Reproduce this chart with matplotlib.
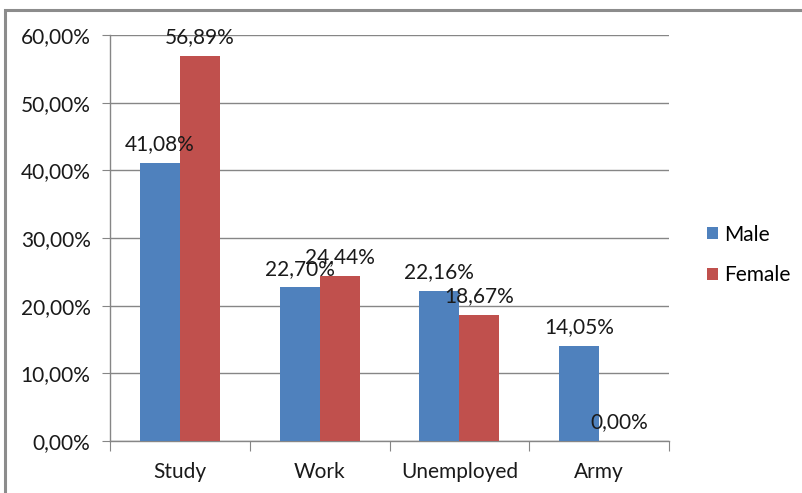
import matplotlib
matplotlib.use("Agg")
import matplotlib.pyplot as plt
from matplotlib.patches import Rectangle
import numpy as np

categories = ["Study", "Work", "Unemployed", "Army"]
male = [41.08, 22.70, 22.16, 14.05]
female = [56.89, 24.44, 18.67, 0.00]
series_names = ["Male", "Female"]
yticks = [0, 10, 20, 30, 40, 50, 60]

BLUE = "#4F81BD"
RED = "#C0504D"
GRID = "#868686"
FONT = ["Lato", "DejaVu Sans"]
plt.rcParams['font.family'] = FONT
FS = 15

def pct(v):
    return f"{v:.2f}".replace(".", ",") + "%"

fig = plt.figure(figsize=(8.02, 4.93), dpi=100)
W, H = 802, 493
# outer chart frame (cropped on right/bottom)
fig.patches.append(Rectangle((5 / W, -0.1), 1.2, 1 - 10 / H + 0.1, transform=fig.transFigure,
                             fill=False, edgecolor="#8c8c8c", linewidth=2.2))

ax = fig.add_axes([110 / W, 1 - 441 / H, (669 - 110) / W, (441 - 35) / H])
x = np.arange(len(categories)) + 0.5
w = 40 / 140
ax.bar(x - w / 2, male, width=w, color=BLUE, label=series_names[0], zorder=3)
ax.bar(x + w / 2, female, width=w, color=RED, label=series_names[1], zorder=3)

for xi, v in zip(x - w / 2, male):
    ax.text(xi, v + 1.3, pct(v), ha="center", va="bottom", fontsize=FS, color="#1a1a1a", zorder=4)
for xi, v in zip(x + w / 2, female):
    ax.text(xi, v + 1.3, pct(v), ha="center", va="bottom", fontsize=FS, color="#1a1a1a", zorder=4)

ax.set_xlim(0, 4)
ax.set_ylim(0, 60)
ax.set_yticks(yticks)
ax.set_yticklabels([pct(t) for t in yticks], fontsize=FS, color="#1a1a1a")
ax.yaxis.grid(True, color=GRID, linewidth=1, zorder=0)
ax.set_xticks(np.arange(0, 5))
ax.set_xticklabels([])
ax.set_xticks(x, minor=True)
ax.set_xticklabels(categories, minor=True, fontsize=FS, color="#1a1a1a")
ax.tick_params(axis="x", which="major", length=7, color=GRID, direction="out")
ax.tick_params(axis="x", which="minor", length=0, pad=15)
ax.tick_params(axis="y", length=6, color=GRID, pad=8)
for s in ["top", "right"]:
    ax.spines[s].set_visible(False)
for s in ["left", "bottom"]:
    ax.spines[s].set_color(GRID)
    ax.spines[s].set_linewidth(1)

fig.legend(loc="center left", bbox_to_anchor=(688 / W, 1 - 255 / H), frameon=False,
           fontsize=FS, handlelength=0.55, handleheight=0.55, handletextpad=0.3,
           labelspacing=1.0)

fig.savefig("out.png", dpi=100)
